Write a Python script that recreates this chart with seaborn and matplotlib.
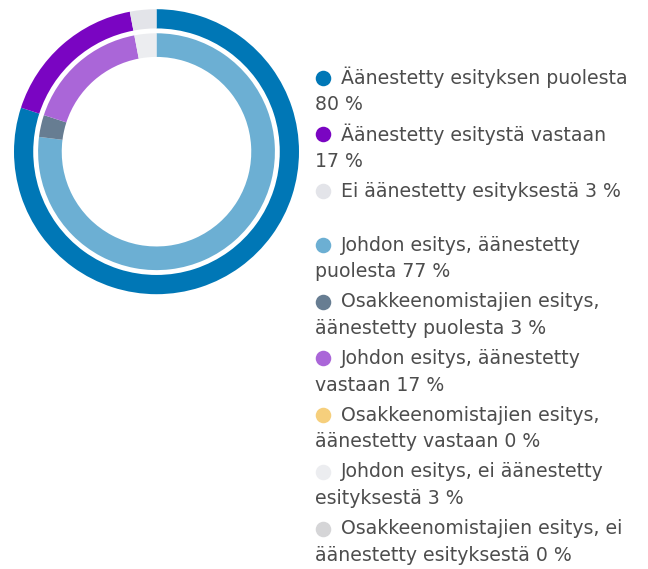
import matplotlib
matplotlib.use("Agg")
import matplotlib.pyplot as plt
import seaborn as sns

sns.set_theme(style="white")
plt.rcParams["font.family"] = ["DejaVu Sans"]

# ------------------------------------------------------------
# Data
# ------------------------------------------------------------
outer_labels = [
    "Äänestetty esityksen puolesta\n80 %",
    "Äänestetty esitystä vastaan\n17 %",
    "Ei äänestetty esityksestä 3 %",
]
outer_values = [80, 17, 3]
outer_colors = ["#0077b6", "#7a05c2", "#e3e4e9"]

inner_labels = [
    "Johdon esitys, äänestetty\npuolesta 77 %",
    "Osakkeenomistajien esitys,\näänestetty puolesta 3 %",
    "Johdon esitys, äänestetty\nvastaan 17 %",
    "Osakkeenomistajien esitys,\näänestetty vastaan 0 %",
    "Johdon esitys, ei äänestetty\nesityksestä 3 %",
    "Osakkeenomistajien esitys, ei\näänestetty esityksestä 0 %",
]
inner_values = [77, 3, 17, 0, 3, 0]
inner_colors = ["#6cafd3", "#677d92", "#aa66d8", "#f6cf7c", "#ecedf0", "#d5d5d7"]

# ------------------------------------------------------------
# Figure
# ------------------------------------------------------------
W, H = 648, 569
fig = plt.figure(figsize=(W / 100, H / 100), dpi=100)

cx, cy, R = 156.5, 151.7, 142.5
ax = fig.add_axes([(cx - R) / W, (H - cy - R) / H, 2 * R / W, 2 * R / H])

ax.pie(outer_values, colors=outer_colors, radius=1.0, startangle=90,
       counterclock=False, wedgeprops=dict(width=0.135, linewidth=0))
ax.pie(inner_values, colors=inner_colors, radius=0.831, startangle=90,
       counterclock=False, wedgeprops=dict(width=0.166, linewidth=0))
ax.set_xlim(-1, 1)
ax.set_ylim(-1, 1)
ax.set_aspect("equal")
ax.axis("off")

# ------------------------------------------------------------
# Legend (drawn by hand, pixel layout)
# ------------------------------------------------------------
lax = fig.add_axes([0, 0, 1, 1])
lax.set_xlim(0, W)
lax.set_ylim(H, 0)
lax.axis("off")

text_color = "#4d4d4d"
marker_x, text_x, wrap_x = 323.3, 341, 315
line_gap = 26.6
entry_gap = 56.7
font_size = 13.6


def draw_entries(labels, colors, y0):
    y = y0
    for label, color in zip(labels, colors):
        lines = label.split("\n")
        lax.scatter([marker_x], [y], s=125, color=color, linewidths=0)
        lax.text(text_x, y, lines[0], fontsize=font_size, color=text_color,
                 va="center", ha="left")
        for k, extra in enumerate(lines[1:], start=1):
            lax.text(wrap_x, y + k * line_gap, extra, fontsize=font_size,
                     color=text_color, va="center", ha="left")
        y += entry_gap


draw_entries(outer_labels, outer_colors, 77.7)
draw_entries(inner_labels, inner_colors, 245)

fig.savefig("out.png", dpi=100)
plt.close(fig)
